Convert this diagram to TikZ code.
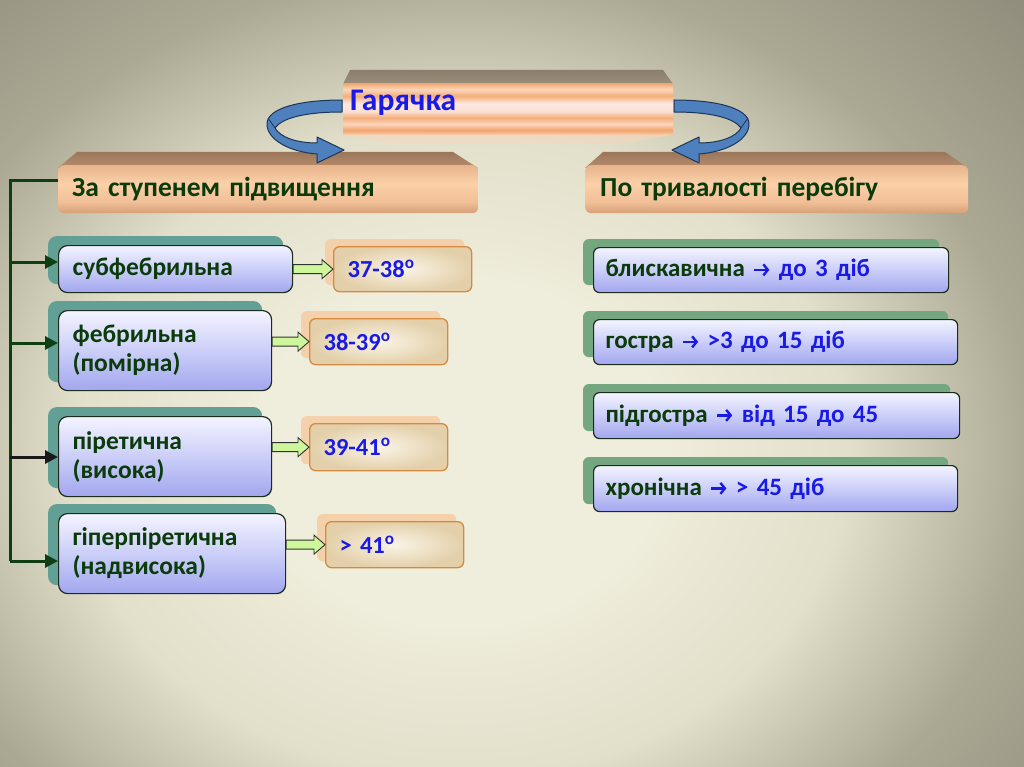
\documentclass[tikz,border=0pt]{standalone}
\usepackage{fontspec}
\setmainfont{Carlito}
\usetikzlibrary{calc,arrows.meta}
\definecolor{bgA}{HTML}{EFEDDB}
\definecolor{bgB}{HTML}{E2DFCA}
\definecolor{bgC}{HTML}{ABA893}
\definecolor{bgD}{HTML}{8E8B7B}
\definecolor{tgreen}{HTML}{0B3B0B}
\definecolor{tblue}{HTML}{1A1AE6}
\definecolor{brkgreen}{HTML}{0E3E12}
\definecolor{topfaceA}{HTML}{8A7E6C}
\definecolor{topfaceB}{HTML}{9C8E7A}
\definecolor{hdrtopA}{HTML}{9A775A}
\definecolor{hdrtopB}{HTML}{B88E6E}
\definecolor{hT}{HTML}{E8B48C}
\definecolor{hM1}{HTML}{FBD0A8}
\definecolor{hM2}{HTML}{F1C098}
\definecolor{hB}{HTML}{D6A079}
\definecolor{sO}{HTML}{F2A46C}
\definecolor{sL}{HTML}{FBD6BC}
\definecolor{sO2}{HTML}{F4AE7C}
\definecolor{sW}{HTML}{FDE9E0}
\definecolor{sL2}{HTML}{FBE0D2}
\definecolor{sB}{HTML}{F6C4A0}
\definecolor{blueTop}{HTML}{F3F4FF}
\definecolor{blueMid}{HTML}{CBCEF8}
\definecolor{blueBot}{HTML}{A2A6EE}
\definecolor{bord}{HTML}{1C2C1C}
\definecolor{tealsh}{HTML}{62A096}
\definecolor{greensh}{HTML}{74A67F}
\definecolor{peachsh}{HTML}{F6C9A0}
\definecolor{tborder}{HTML}{D68A40}
\definecolor{tin}{HTML}{FAF4E6}
\definecolor{tout}{HTML}{E3D0AA}
\definecolor{garrowc}{HTML}{CDF79A}
\definecolor{ribc}{HTML}{4F80BE}
\definecolor{ribline}{HTML}{1E3558}
\pgfdeclareradialshading{bgrad}{\pgfpoint{0bp}{0bp}}{color(0bp)=(bgA); color(9bp)=(bgA); color(17bp)=(bgB); color(25bp)=(bgC); color(35bp)=(bgD); color(50bp)=(bgD)}
\pgfdeclareverticalshading{hdrsh}{100bp}{color(0bp)=(hB); color(25bp)=(hB); color(37bp)=(hM2); color(56bp)=(hM1); color(75bp)=(hT); color(100bp)=(hT)}
\pgfdeclareverticalshading{stripesh}{100bp}{color(0bp)=(sB); color(25bp)=(sB); color(29bp)=(sO); color(35bp)=(sL); color(41bp)=(sO2); color(47.5bp)=(sL2); color(55bp)=(sW); color(62.5bp)=(sO2); color(69bp)=(sL); color(75bp)=(sO); color(100bp)=(sO)}
\pgfdeclarelayer{bg}
\pgfdeclarelayer{shadowlayer}
\pgfsetlayers{bg,shadowlayer,main}
\newcommand{\arr}{\tikz[baseline=0pt, x=1pt, y=1pt]{\draw[tblue, line width=2.4pt, -{Straight Barb[length=4.5pt, width=11pt]}] (0,7) -- (15,7);}}
\begin{document}
\begin{tikzpicture}[x=1pt,y=-1pt,
  lbox/.style={draw=bord, line width=1.2pt, rounded corners=9pt, top color=blueTop, bottom color=blueBot, middle color=blueMid, anchor=north west, align=left, inner xsep=14pt, inner ysep=0pt, font=\fontsize{25.5}{29}\selectfont\bfseries, text=tgreen},
  rbox/.style={lbox, rounded corners=6pt, inner xsep=12pt, font=\fontsize{25}{29}\selectfont\bfseries},
  tbox/.style={draw=tborder, line width=1.3pt, rounded corners=6pt, inner color=tin, outer color=tout, anchor=north west, align=left, inner xsep=14pt, inner ysep=0pt, font=\fontsize{24.5}{29}\selectfont\bfseries, text=tblue},
  hdr/.style={shade, shading=hdrsh, rounded corners=6pt, anchor=north west, align=left, inner xsep=14pt, inner ysep=0pt, font=\fontsize{27.5}{30}\selectfont\bfseries, text=tgreen},
  topbox/.style={shade, shading=stripesh, anchor=north west, align=left, inner xsep=7pt, inner ysep=0pt, text height=16pt, text depth=13pt, font=\fontsize{31.5}{33}\selectfont\bfseries, text=tblue},
  garrow/.style={fill=garrowc, draw=black!80, line width=0.9pt, line join=miter},
  brk/.style={draw=brkgreen, line width=3pt, -{Triangle[length=13pt,width=13pt]}},
  ribbon/.style={fill=ribc, draw=ribline, line width=1pt, line join=round}
]
\useasboundingbox (0,0) rectangle (1024,767);
\begin{pgfonlayer}{bg}
\begin{scope}
\clip (0,0) rectangle (1024,767);
\shade[shading=bgrad] (-110,-25) rectangle (1030,930);
\end{scope}
\end{pgfonlayer}

% ---- top box
\shade[top color=topfaceA, bottom color=topfaceB] (350,70) -- (663,70) -- (673,84) -- (343,84) -- cycle;
\node[topbox, minimum width=330pt, minimum height=51pt, text width=316pt] (top) at (343,83) {Гарячка};
\fill[sL, opacity=0.45] (top.south west) -- (top.south east) -- ($(top.south east)+(-45,9)$) -- ($(top.south west)+(45,9)$) -- cycle;

% ---- header boxes
\shade[top color=hdrtopA, bottom color=hdrtopB] (77,152) -- (453,152) -- (478,168) -- (58,168) -- cycle;
\node[hdr, minimum width=420pt, minimum height=48pt, text width=392pt] (hL) at (58,165) {За ступенем підвищення};
\shade[top color=hdrtopA, bottom color=hdrtopB] (603,152) -- (945,152) -- (968,168) -- (585,168) -- cycle;
\node[hdr, minimum width=383pt, minimum height=48pt, text width=353pt, inner xsep=15pt] (hR) at (585,165) {По тривалості перебігу};

% ---- curved arrows
\path[ribbon] (342,100) .. controls (300,100) and (267,108) .. (267,124)
  .. controls (267,140) and (290,152) .. (317,154)
  -- (317,163) -- (344,150) -- (317,137) -- (317,143)
  .. controls (296,143) and (280,137) .. (275,128)
  .. controls (282,118) and (305,112) .. (342,112) -- cycle;
\draw[ribline, line width=0.8pt] (268,118) -- (275,128);
\begin{scope}[shift={(1016,0)}, xscale=-1]
\path[ribbon] (342,100) .. controls (300,100) and (267,108) .. (267,124)
  .. controls (267,140) and (290,152) .. (317,154)
  -- (317,163) -- (344,150) -- (317,137) -- (317,143)
  .. controls (296,143) and (280,137) .. (275,128)
  .. controls (282,118) and (305,112) .. (342,112) -- cycle;
\draw[ribline, line width=0.8pt] (268,118) -- (275,128);
\end{scope}

% ---- left boxes
\node[lbox, minimum width=234pt, minimum height=47pt, text width=206pt] (lb1) at (58,245) {субфебрильна};
\node[lbox, minimum width=213pt, minimum height=80pt, text width=185pt] (lb2) at (58,310) {фебрильна\\(помірна)};
\node[lbox, minimum width=213pt, minimum height=80pt, text width=185pt] (lb3) at (58,416) {піретична\\(висока)};
\node[lbox, minimum width=227pt, minimum height=80pt, text width=199pt] (lb4) at (58,513) {гіперпіретична\\(надвисока)};

% ---- temperature boxes
\node[tbox, minimum width=138pt, minimum height=45pt, text width=110pt] (t1) at (333,246) {37-38\textsuperscript{o}};
\node[tbox, minimum width=138pt, minimum height=46pt, text width=110pt] (t2) at (309,318) {38-39\textsuperscript{o}};
\node[tbox, minimum width=138pt, minimum height=47pt, text width=110pt] (t3) at (309,423) {39-41\textsuperscript{o}};
\node[tbox, minimum width=138pt, minimum height=46pt, text width=110pt, inner xsep=13pt] (t4) at (325,521) {> 41\textsuperscript{o}};

% ---- right boxes
\node[rbox, minimum width=355pt, minimum height=45pt, text width=331pt] (rb1) at (593,247) {блискавична {\color{tblue}\arr{} до 3 діб}};
\node[rbox, minimum width=364pt, minimum height=45pt, text width=340pt] (rb2) at (593,319) {гостра {\color{tblue}\arr{} >3 до 15 діб}};
\node[rbox, minimum width=366pt, minimum height=46pt, text width=342pt] (rb3) at (593,392) {підгостра {\color{tblue}\arr{} від 15 до 45}};
\node[rbox, minimum width=364pt, minimum height=46pt, text width=340pt] (rb4) at (593,465) {хронічна {\color{tblue}\arr{} > 45 діб}};

% ---- shadows
\begin{pgfonlayer}{shadowlayer}
\foreach \n in {lb1,lb2,lb3,lb4}
  \fill[tealsh, rounded corners=9pt] ($(\n.north west)+(-10,-9)$) rectangle ($(\n.south east)+(-10,-9)$);
\foreach \n in {rb1,rb2,rb3,rb4}
  \fill[greensh, rounded corners=6pt] ($(\n.north west)+(-10,-8)$) rectangle ($(\n.south east)+(-10,-8)$);
\foreach \n in {t1,t2,t3,t4}
  \fill[peachsh, opacity=0.8, rounded corners=6pt] ($(\n.north west)+(-8,-7)$) rectangle ($(\n.south east)+(-8,-7)$);
\end{pgfonlayer}

% ---- green block arrows
\foreach \b/\t in {lb1/t1,lb2/t2,lb3/t3,lb4/t4}
  \draw[garrow] let \p1=(\b.east |- \t.west), \p2=(\t.west) in
   (\x1,\y1+4.5pt) -- (\x2-11pt,\y1+4.5pt) -- (\x2-11pt,\y1+9.5pt) -- (\x2,\y2)
   -- (\x2-11pt,\y1-9.5pt) -- (\x2-11pt,\y1-4.5pt) -- (\x1,\y1-4.5pt) -- cycle;

% ---- bracket
\coordinate (v0) at (10,181);
\coordinate (v4) at (10,561);
\coordinate (a1) at (58,262);
\coordinate (a2) at (58,343);
\coordinate (a3) at (58,457);
\draw[draw=brkgreen, line width=3pt, line join=miter] (hL.west |- v0) -- (v0) -- (v4);
\draw[brk] (v4) -- (v4 -| lb4.west);
\draw[brk] (v0 |- a1) -- (a1);
\draw[brk] (v0 |- a2) -- (a2);
\draw[brk, draw=black!90] (v0 |- a3) -- (a3);
\end{tikzpicture}
\end{document}
